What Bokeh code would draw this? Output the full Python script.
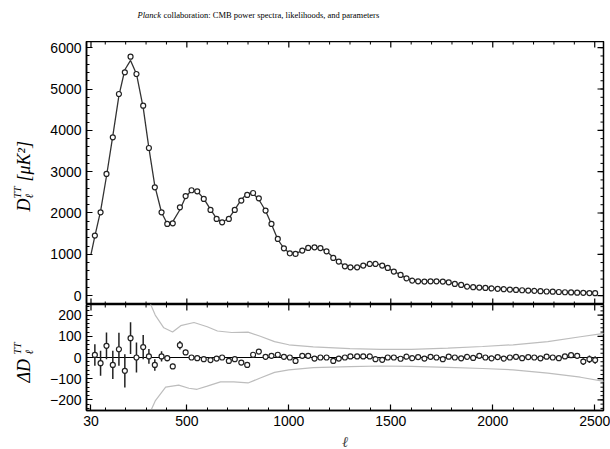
import numpy as np
from bokeh.plotting import figure
from bokeh.layouts import column, row
from bokeh.models import Range1d, FixedTicker
from bokeh.core.properties import value
from bokeh.embed import file_html
from bokeh.resources import INLINE

# ---------------- data ----------------
ell = [49, 77, 106, 137, 167, 196, 224, 253, 286, 314, 343, 376, 404, 431, 466,
       494, 523, 551, 583, 616, 646, 673, 706, 735, 767, 796, 825, 853, 886, 915,
       946, 976, 1005, 1033, 1066, 1095, 1126, 1155, 1185, 1218, 1245, 1275, 1302,
       1335, 1365, 1397, 1425, 1458, 1485, 1515, 1548, 1577, 1605, 1634, 1665,
       1695, 1724, 1755, 1784, 1814, 1845, 1874, 1904, 1934, 1964, 1994, 2024,
       2054, 2084, 2114, 2144, 2174, 2204, 2234, 2264, 2294, 2324, 2354, 2384,
       2414, 2444, 2474, 2502]
tt_D = [1452, 2016, 2944, 3830, 4880, 5403, 5783, 5364, 4597, 3573, 2621, 2016,
        1735, 1750, 2137, 2410, 2550, 2524, 2340, 2073, 1856, 1774, 1856, 2073,
        2299, 2436, 2484, 2355, 2057, 1735, 1371, 1144, 1024, 1008, 1089, 1153,
        1169, 1150, 1072, 911, 823, 710, 685, 685, 726, 766, 766, 726, 670, 581,
        500, 419, 363, 346, 339, 346, 346, 339, 322, 283, 259, 218, 205, 195, 185,
        175, 165, 155, 145, 137, 130, 122, 115, 108, 100, 95, 88, 82, 78, 72, 68,
        62, 58]
resid = [12, -27, 55, -35, 39, -63, 91, 0, 49, 5, -35, 5, -3, -42, 58, 24, 0, -3,
         -8, -12, -5, 0, -16, -8, -24, -35, 13, 28, 3, 8, 13, 3, 0, -16, 8, 8, -5,
         0, 0, -16, -5, 0, 5, 5, 5, 5, -8, -11, 0, 0, -6, 4, -3, 2, -5, 3, 0, -8,
         4, 0, -4, 3, -2, 8, 0, -4, 2, -5, 0, 3, -3, 2, 0, -4, 4, 0, -3, 5, 11, 8,
         -19, -8, -12]
err = [51, 59, 63, 67, 78, 78, 75, 71, 57, 35, 27, 24, 15, 12, 20, 12, 12, 12, 12,
       11, 11, 11, 11, 11, 11, 11, 10, 10, 10, 10, 10, 10, 9, 9, 9, 9, 9, 9, 8, 8,
       8, 8, 8, 8, 8, 8, 8, 8, 8, 8, 8, 8, 8, 8, 8, 8, 8, 8, 8, 8, 8, 8, 8, 8, 8,
       8, 8, 8, 8, 9, 9, 9, 9, 9, 10, 10, 10, 11, 12, 13, 16, 18, 18]
curve_head_ell = [30]
curve_head_D = [1000]

env_up_ell = [305, 345, 387, 430, 470, 535, 600, 650, 720, 800, 860, 930, 1000,
              1120, 1300, 1450, 1600, 1780, 1950, 2100, 2270, 2430, 2545]
env_up = [290, 200, 140, 120, 150, 165, 145, 125, 118, 120, 100, 75, 60, 50, 42,
          38, 38, 44, 52, 60, 75, 98, 114]
env_lo_ell = [305, 345, 396, 460, 510, 550, 600, 665, 730, 800, 860, 930, 1000,
              1120, 1300, 1450, 1600, 1780, 1950, 2100, 2270, 2430, 2545]
env_lo = [-290, -205, -140, -130, -145, -150, -135, -115, -115, -120, -97, -70,
          -58, -48, -43, -40, -42, -47, -52, -58, -74, -93, -113]

x_major = [30, 500, 1000, 1500, 2000, 2500]
x_minor = [100, 200, 300, 400, 600, 700, 800, 900, 1100, 1200, 1300, 1400, 1600,
           1700, 1800, 1900, 2100, 2200, 2300, 2400]
top_y_major = [0, 1000, 2000, 3000, 4000, 5000, 6000]
top_y_minor = list(range(-200, 6200, 200))
res_y_major = [-200, -100, 0, 100, 200]
res_y_minor = list(range(-240, 260, 20))

title_a = "Planck"
title_b = "collaboration: CMB power spectra, likelihoods, and parameters"
ylab_top = ["D", "TT", "ℓ", "[μK²]"]
ylab_bot = ["ΔD", "TT", "ℓ"]
xlab = "ℓ"

# ---------------- geometry (pixels) ----------------
W, H = 610, 449
X0, X1 = 8, 2543
LABW = 40                 # width of the y-label strip
LEFT = 86 - LABW          # remaining left border of the panels
RIGHT = 7
TOPB = 41
FW = W - 86 - RIGHT       # 517
TOP_FH, BOT_FH = 263, 106
BOTB = H - TOPB - TOP_FH - BOT_FH
Y1_LO, Y1_HI = -215, 6150
Y2_LO, Y2_HI = -250, 250

TICK_FONT = "Liberation Sans"
SERIF = "Liberation Serif"
MAJ, MIN = 6, 3

def style_axis(ax, ticks, minor):
    ax.ticker = FixedTicker(ticks=ticks, minor_ticks=minor)
    ax.major_tick_in = MAJ
    ax.major_tick_out = 0
    ax.minor_tick_in = MIN
    ax.minor_tick_out = 0
    ax.axis_line_color = "black"
    ax.axis_line_width = 1.5
    ax.major_tick_line_color = "black"
    ax.major_tick_line_width = 1.2
    ax.minor_tick_line_color = "black"
    ax.minor_tick_line_width = 1
    ax.major_label_text_font = TICK_FONT
    ax.major_label_text_font_size = "14px"
    ax.major_label_text_color = "black"
    ax.major_label_standoff = 5

def make_fig(fh, ylo, yhi, mb_bottom, with_x):
    p = figure(frame_width=FW, frame_height=fh,
               x_range=Range1d(X0, X1), y_range=Range1d(ylo, yhi),
               x_axis_type="linear" if with_x else None,
               output_backend="svg", toolbar_location=None,
               min_border_left=LEFT, min_border_right=RIGHT,
               min_border_top=0, min_border_bottom=mb_bottom)
    p.xgrid.visible = False
    p.ygrid.visible = False
    p.outline_line_color = "black"
    p.outline_line_width = 1.5
    p.background_fill_color = "white"
    p.border_fill_color = "white"
    return p

def mirror_ticks(p, fh, ylo, yhi, xedges, yticks_major, yticks_minor):
    """inner ticks on the frame edges that carry no labels"""
    sx = (X1 - X0) / FW
    sy = (yhi - ylo) / fh
    for ticks, ln in ((x_major, MAJ), (x_minor, MIN)):
        for edge in xedges:
            y0 = yhi if edge == "top" else ylo
            y1 = y0 - ln * sy if edge == "top" else y0 + ln * sy
            p.segment(x0=ticks, y0=[y0] * len(ticks), x1=ticks, y1=[y1] * len(ticks),
                      line_color="black", line_width=1.2 if ln == MAJ else 1)
    for ticks, ln in ((yticks_major, MAJ), (yticks_minor, MIN)):
        p.segment(x0=[X1] * len(ticks), y0=ticks, x1=[X1 - ln * sx] * len(ticks),
                  y1=ticks, line_color="black", line_width=1.2 if ln == MAJ else 1)

# ---------------- top panel ----------------
p1 = make_fig(TOP_FH, Y1_LO, Y1_HI, 0, False)
style_axis(p1.yaxis[0], top_y_major, top_y_minor)
mirror_ticks(p1, TOP_FH, Y1_LO, Y1_HI, ("top", "bottom"), top_y_major, top_y_minor)

ell_a = np.array(ell, dtype=float)
D_a = np.array(tt_D, dtype=float)
r_a = np.array(resid, dtype=float)
e_a = np.array(err, dtype=float)
model_ell = np.concatenate([curve_head_ell, ell_a])
model_D = np.concatenate([curve_head_D, D_a - r_a])

p1.line(model_ell, model_D, line_color="#333333", line_width=1.3)
p1.scatter(ell_a, D_a, marker="circle", size=5, fill_color="white",
           line_color="#222222", line_width=1.2)

# ---------------- bottom panel ----------------
p2 = make_fig(BOT_FH, Y2_LO, Y2_HI, BOTB, True)
style_axis(p2.xaxis[0], x_major, x_minor)
p2.xaxis[0].axis_label = xlab
p2.xaxis[0].axis_label_text_font = SERIF
p2.xaxis[0].axis_label_text_font_style = "italic"
p2.xaxis[0].axis_label_text_font_size = "15px"
p2.xaxis[0].axis_label_standoff = 5
style_axis(p2.yaxis[0], res_y_major, res_y_minor)
mirror_ticks(p2, BOT_FH, Y2_LO, Y2_HI, ("top",), res_y_major, res_y_minor)

p2.line(env_up_ell, env_up, line_color="#bdbdbd", line_width=1.2)
p2.line(env_lo_ell, env_lo, line_color="#bdbdbd", line_width=1.2)
p2.line([X0, X1], [0, 0], line_color="black", line_width=1.2)
p2.segment(ell_a, r_a - e_a, ell_a, r_a + e_a, line_color="#222222", line_width=1.5)
p2.scatter(ell_a, r_a, marker="circle", size=5, fill_color="white",
           line_color="#222222", line_width=1.2)

# ---------------- text strips (page pixel coordinates) ----------------
def text_fig(w, h, x0, y_top):
    f = figure(frame_width=w, frame_height=h,
               x_range=Range1d(x0, x0 + w), y_range=Range1d(y_top + h, y_top),
               x_axis_type=None, y_axis_type=None,
               output_backend="svg", toolbar_location=None,
               min_border=0, min_border_left=0, min_border_right=0,
               min_border_top=0, min_border_bottom=0)
    f.xgrid.visible = False
    f.ygrid.visible = False
    f.outline_line_color = None
    f.background_fill_color = "white"
    f.border_fill_color = "white"
    return f

tfig = text_fig(W, TOPB, 0, 0)
tfig.text(x=[137], y=[14], text=[title_a], text_font=value(SERIF),
          text_font_style="italic", text_font_size="8.5px",
          text_align="left", text_baseline="middle", text_color="black")
tfig.text(x=[163], y=[14], text=[title_b], text_font=value(SERIF),
          text_font_size="8.5px", text_align="left", text_baseline="middle",
          text_color="black")

lfig = text_fig(LABW, H - TOPB, 0, TOPB)

def rtext(f, px, py, txt, size):
    f.text(x=[px], y=[py], text=[txt], angle=np.pi / 2, text_font=value(SERIF),
           text_font_style="italic", text_font_size=size, text_align="left",
           text_baseline="middle", text_color="black")

rtext(lfig, 23, 211, ylab_top[0], "18px")
rtext(lfig, 16, 198, ylab_top[1], "11px")
rtext(lfig, 28, 198, ylab_top[2], "11px")
rtext(lfig, 23, 181, ylab_top[3], "18px")

rtext(lfig, 23, 382, ylab_bot[0], "18px")
rtext(lfig, 16, 354, ylab_bot[1], "11px")
rtext(lfig, 28, 354, ylab_bot[2], "11px")

layout = column(tfig, row(lfig, column(p1, p2, spacing=0), spacing=0), spacing=0)
open("out.html", "w").write(file_html(layout, INLINE))
